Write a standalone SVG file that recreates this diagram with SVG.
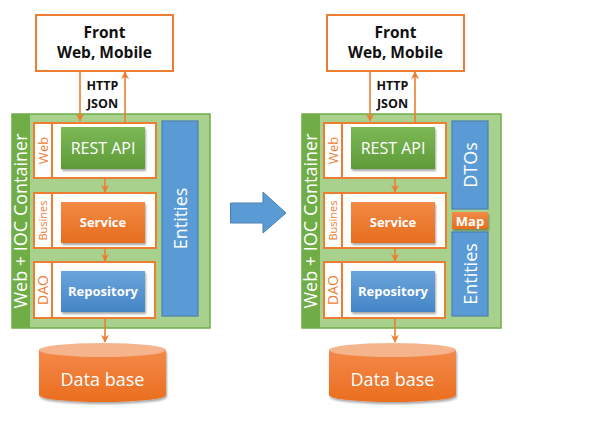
<svg xmlns="http://www.w3.org/2000/svg" width="607" height="428" viewBox="0 0 607 428">
  <defs>
    <linearGradient id="gGreen" x1="0" y1="0" x2="0" y2="1">
      <stop offset="0" stop-color="#7DB857"/>
      <stop offset="1" stop-color="#5E9B38"/>
    </linearGradient>
    <linearGradient id="gOrange" x1="0" y1="0" x2="0" y2="1">
      <stop offset="0" stop-color="#F28A45"/>
      <stop offset="1" stop-color="#E66D1E"/>
    </linearGradient>
    <linearGradient id="gBlue" x1="0" y1="0" x2="0" y2="1">
      <stop offset="0" stop-color="#6AA5DC"/>
      <stop offset="1" stop-color="#4585C6"/>
    </linearGradient>
    <linearGradient id="gDb" x1="0" y1="0" x2="0" y2="1">
      <stop offset="0" stop-color="#F4884A"/>
      <stop offset="1" stop-color="#EA6E1F"/>
    </linearGradient>
    <filter id="shadow" x="-10%" y="-10%" width="125%" height="135%">
      <feGaussianBlur in="SourceAlpha" stdDeviation="1.2"/>
      <feOffset dx="1" dy="2" result="b"/>
      <feComponentTransfer><feFuncA type="linear" slope="0.35"/></feComponentTransfer>
      <feMerge><feMergeNode/><feMergeNode in="SourceGraphic"/></feMerge>
    </filter>
    <marker id="arr" viewBox="0 0 10 10" refX="9" refY="5" markerWidth="5" markerHeight="5" orient="auto-start-reverse">
      <path d="M0,0 L10,5 L0,10 L3,5 Z" fill="#ED7D31"/>
    </marker>
  </defs>
  <style>
    .front{fill:#fff;stroke:#ED7D31;stroke-width:2}
    .ft{font-family:"Open Sans","Noto Sans","DejaVu Sans",sans-serif;font-weight:bold;font-size:15.5px;fill:#111;text-anchor:middle}
    .proto{font-family:"Open Sans","Noto Sans","DejaVu Sans",sans-serif;font-weight:bold;font-size:12.5px;fill:#111;text-anchor:middle}
    .cont{fill:#A9D18E;stroke:#70AD47;stroke-width:1.5}
    .bar{fill:#70AD47}
    .layer{fill:#fff;stroke:#ED7D31;stroke-width:2}
    .lbl{font-family:"Open Sans","Noto Sans","DejaVu Sans",sans-serif;fill:#ED7D31;text-anchor:middle}
    .wt{font-family:"Open Sans","Noto Sans","DejaVu Sans",sans-serif;fill:#fff;text-anchor:middle}
    .bold{font-weight:bold}
    .ent{fill:#5B9BD5;stroke:#4A7FB0;stroke-width:1.2}
    .conn{stroke:#ED7D31;stroke-width:1.6;fill:none}
  </style>

  <!-- transition arrow between the two architectures -->
  <g id="transition">
    <path d="M230.5,203 H263 V192 L286,213 L263,233 V223 H230.5 Z" fill="#5B9BD5" stroke="#4A7FB0" stroke-width="1"/>
  </g>

  <!-- ===== left architecture ===== -->
  <g id="left-front">
    <rect class="front" x="36" y="15" width="137" height="56"/>
    <text class="ft" x="104.5" y="38">Front</text>
    <text class="ft" x="104.5" y="58">Web, Mobile</text>
  </g>
  <g id="left-container">
    <rect class="cont" x="12" y="114" width="198" height="214"/>
    <rect class="bar" x="12" y="114" width="18" height="214"/>
    <text class="wt" font-size="18" transform="translate(27,221) rotate(-90)">Web + IOC Container</text>
  </g>
  <g id="left-web">
    <rect class="layer" x="34" y="123" width="122" height="55"/>
    <line x1="52" y1="123" x2="52" y2="178" stroke="#ED7D31" stroke-width="2"/>
    <text class="lbl" font-size="13" transform="translate(48,150.5) rotate(-90)">Web</text>
    <rect x="61" y="127" width="84" height="42" fill="url(#gGreen)" filter="url(#shadow)"/>
    <text class="wt" font-size="16" x="103" y="154">REST API</text>
  </g>
  <g id="left-business">
    <rect class="layer" x="34" y="193" width="122" height="55"/>
    <line x1="52" y1="193" x2="52" y2="248" stroke="#ED7D31" stroke-width="2"/>
    <text class="lbl" font-size="11" transform="translate(47,220.5) rotate(-90)">Busines</text>
    <rect x="61" y="202" width="84" height="41" fill="url(#gOrange)" filter="url(#shadow)"/>
    <text class="wt bold" font-size="13" x="103" y="227">Service</text>
  </g>
  <g id="left-dao">
    <rect class="layer" x="34" y="262" width="121" height="56"/>
    <line x1="52" y1="262" x2="52" y2="318" stroke="#ED7D31" stroke-width="2"/>
    <text class="lbl" font-size="14" transform="translate(48,290) rotate(-90)">DAO</text>
    <rect x="61" y="271" width="84" height="41" fill="url(#gBlue)" filter="url(#shadow)"/>
    <text class="wt bold" font-size="13" x="103" y="296">Repository</text>
  </g>
  <g id="left-entities">
    <rect class="ent" x="162" y="121" width="36" height="195"/>
    <text class="wt" font-size="18" transform="translate(186.5,218.5) rotate(-90)">Entities</text>
  </g>
  <g id="left-db">
    <path d="M39,350 V395 A63.5,7 0 0 0 166,395 V350 Z" fill="url(#gDb)" filter="url(#shadow)"/>
    <ellipse cx="102.5" cy="350" rx="63.5" ry="7" fill="#F5B48B"/>
    <text class="wt" font-size="18" x="102.5" y="386">Data base</text>
  </g>
  <g id="left-connectors">
    <line class="conn" x1="80" y1="72" x2="80" y2="121" marker-end="url(#arr)"/>
    <line class="conn" x1="125" y1="123" x2="125" y2="72" marker-end="url(#arr)"/>
    <text class="proto" x="102.5" y="90">HTTP</text>
    <text class="proto" x="102.5" y="107.5">JSON</text>
    <line class="conn" x1="105" y1="179" x2="105" y2="192" marker-end="url(#arr)"/>
    <line class="conn" x1="105" y1="249" x2="105" y2="261" marker-end="url(#arr)"/>
    <line class="conn" x1="105" y1="319" x2="105" y2="342" marker-end="url(#arr)"/>
  </g>

  <!-- ===== right architecture ===== -->
  <g id="right-front">
    <rect class="front" x="327" y="15" width="137" height="56"/>
    <text class="ft" x="395.5" y="38">Front</text>
    <text class="ft" x="395.5" y="58">Web, Mobile</text>
  </g>
  <g id="right-container">
    <rect class="cont" x="302" y="114" width="199" height="214"/>
    <rect class="bar" x="302" y="114" width="18" height="214"/>
    <text class="wt" font-size="18" transform="translate(317,221) rotate(-90)">Web + IOC Container</text>
  </g>
  <g id="right-web">
    <rect class="layer" x="324" y="123" width="122" height="55"/>
    <line x1="342" y1="123" x2="342" y2="178" stroke="#ED7D31" stroke-width="2"/>
    <text class="lbl" font-size="13" transform="translate(338,150.5) rotate(-90)">Web</text>
    <rect x="351" y="127" width="84" height="42" fill="url(#gGreen)" filter="url(#shadow)"/>
    <text class="wt" font-size="16" x="393" y="154">REST API</text>
  </g>
  <g id="right-business">
    <rect class="layer" x="324" y="193" width="122" height="55"/>
    <line x1="342" y1="193" x2="342" y2="248" stroke="#ED7D31" stroke-width="2"/>
    <text class="lbl" font-size="11" transform="translate(337,220.5) rotate(-90)">Busines</text>
    <rect x="351" y="202" width="84" height="41" fill="url(#gOrange)" filter="url(#shadow)"/>
    <text class="wt bold" font-size="13" x="393" y="227">Service</text>
  </g>
  <g id="right-dao">
    <rect class="layer" x="324" y="262" width="121" height="56"/>
    <line x1="342" y1="262" x2="342" y2="318" stroke="#ED7D31" stroke-width="2"/>
    <text class="lbl" font-size="14" transform="translate(338,290) rotate(-90)">DAO</text>
    <rect x="351" y="271" width="84" height="41" fill="url(#gBlue)" filter="url(#shadow)"/>
    <text class="wt bold" font-size="13" x="393" y="296">Repository</text>
  </g>
  <g id="right-dtos">
    <rect class="ent" x="452" y="121" width="36" height="88"/>
    <text class="wt" font-size="18" transform="translate(476.5,165) rotate(-90)">DTOs</text>
  </g>
  <g id="right-map">
    <rect x="452" y="212" width="36" height="17" fill="url(#gOrange)" filter="url(#shadow)"/>
    <text class="wt bold" font-size="13" x="470" y="225.5">Map</text>
  </g>
  <g id="right-entities">
    <rect class="ent" x="452" y="232" width="36" height="84"/>
    <text class="wt" font-size="18" transform="translate(476.5,274) rotate(-90)">Entities</text>
  </g>
  <g id="right-db">
    <path d="M329,350 V395 A63.5,7 0 0 0 456,395 V350 Z" fill="url(#gDb)" filter="url(#shadow)"/>
    <ellipse cx="392.5" cy="350" rx="63.5" ry="7" fill="#F5B48B"/>
    <text class="wt" font-size="18" x="392.5" y="386">Data base</text>
  </g>
  <g id="right-connectors">
    <line class="conn" x1="370" y1="72" x2="370" y2="121" marker-end="url(#arr)"/>
    <line class="conn" x1="415" y1="123" x2="415" y2="72" marker-end="url(#arr)"/>
    <text class="proto" x="392.5" y="90">HTTP</text>
    <text class="proto" x="392.5" y="107.5">JSON</text>
    <line class="conn" x1="395" y1="179" x2="395" y2="192" marker-end="url(#arr)"/>
    <line class="conn" x1="395" y1="249" x2="395" y2="261" marker-end="url(#arr)"/>
    <line class="conn" x1="395" y1="319" x2="395" y2="342" marker-end="url(#arr)"/>
  </g>
</svg>
